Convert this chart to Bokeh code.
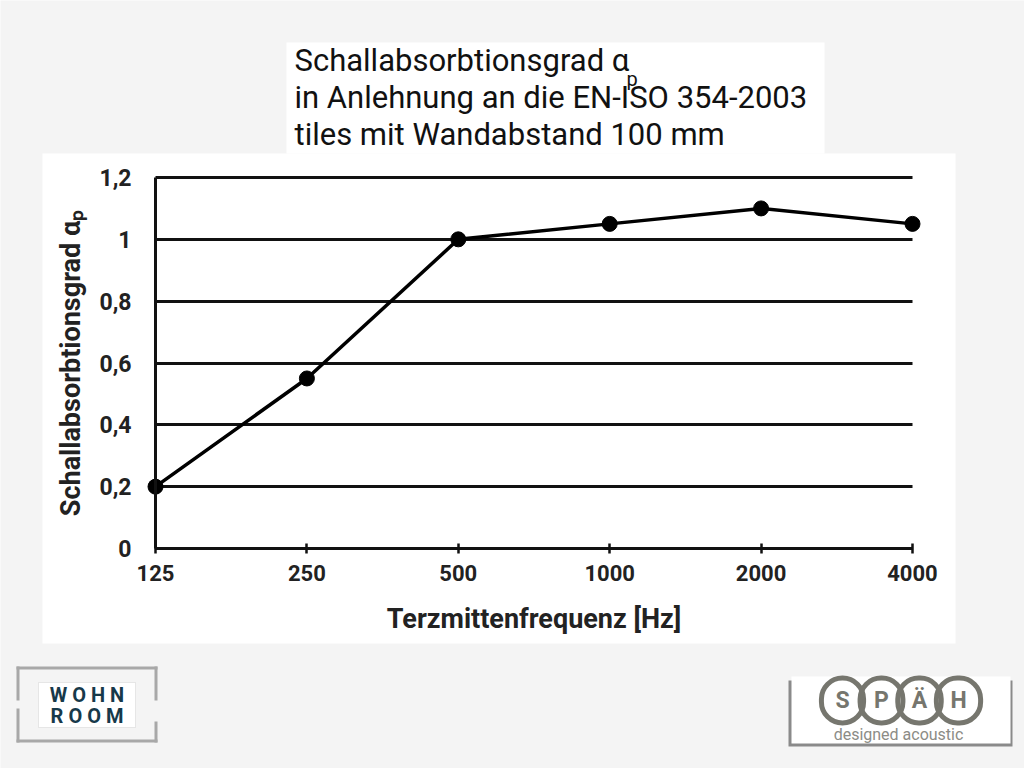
import math
from bokeh.plotting import figure
from bokeh.models import Range1d, FixedTicker, BoxAnnotation, Label, Grid
from bokeh.embed import file_html
from bokeh.resources import INLINE

# ---- data ----
freq = [125, 250, 500, 1000, 2000, 4000]
alpha = [0.2, 0.55, 1.0, 1.05, 1.1, 1.05]
freq_labels = ["125", "250", "500", "1000", "2000", "4000"]
y_ticks = [0, 0.2, 0.4, 0.6, 0.8, 1.0, 1.2]
y_tick_labels = ["0", "0,2", "0,4", "0,6", "0,8", "1", "1,2"]
title_lines = ["Schallabsorbtionsgrad α",
               "in Anlehnung an die EN-ISO 354-2003",
               "tiles mit Wandabstand 100 mm"]
x_title = "Terzmittenfrequenz [Hz]"
y_title = "Schallabsorbtionsgrad αₚ"

W, H = 1024, 768
BG = "#f4f4f4"
FONT = "Roboto"

# pixel layout of the chart area (frame covers the whole canvas)
PX_LEFT, PX_RIGHT = 155, 912      # x of first / last frequency
PY_TOP, PY_BOTTOM = 177, 548      # y of top tick / zero
px_oct = (PX_RIGHT - PX_LEFT) / math.log2(freq[-1] / freq[0])
py_unit = (PY_BOTTOM - PY_TOP) / (y_ticks[-1] - y_ticks[0])
xr = Range1d(freq[0] * 2 ** (-PX_LEFT / px_oct), freq[-1] * 2 ** ((W - PX_RIGHT) / px_oct))
yr = Range1d(y_ticks[0] - (H - PY_BOTTOM) / py_unit, y_ticks[-1] + PY_TOP / py_unit)

p = figure(width=W, height=H, x_axis_type="log", x_range=xr, y_range=yr,
           output_backend="svg", toolbar_location=None, min_border=0)
p.outline_line_color = None
p.background_fill_color = BG
p.border_fill_color = BG

def box(l, r, t, b, color="white", lc=None, lw=1, level="image"):
    ba = BoxAnnotation(left=l, right=r, top=t, bottom=b,
                       left_units="canvas", right_units="canvas",
                       top_units="canvas", bottom_units="canvas",
                       fill_color=color, fill_alpha=1.0,
                       line_color=lc, line_width=lw, level=level)
    p.add_layout(ba)
    return ba

# white panels
box(42, 955, 153, 643)
box(286, 824, 42, 153)

INK = "#111111"
TXT = "#222222"

# x axis
p.xaxis.fixed_location = y_ticks[0]
p.xaxis.ticker = FixedTicker(ticks=freq)
p.xaxis.major_label_overrides = {f: l for f, l in zip(freq, freq_labels)}
p.xaxis.bounds = (freq[0], freq[-1])
p.xaxis.axis_line_width = 3
p.xaxis.axis_line_color = INK
p.xaxis.major_tick_line_width = 2.5
p.xaxis.major_tick_line_color = INK
p.xaxis.major_tick_in = 5
p.xaxis.major_tick_out = 5
p.xaxis.minor_tick_line_color = None
p.xaxis.major_label_text_font = FONT
p.xaxis.major_label_text_font_style = "bold"
p.xaxis.major_label_text_font_size = "22px"
p.xaxis.major_label_text_color = TXT
p.xaxis.major_label_standoff = 11
p.xaxis.axis_label = x_title
p.xaxis.axis_label_text_font = FONT
p.xaxis.axis_label_text_font_style = "bold"
p.xaxis.axis_label_text_font_size = "27px"
p.xaxis.axis_label_text_color = TXT
p.xaxis.axis_label_standoff = 19

# y axis
p.yaxis.fixed_location = freq[0]
p.yaxis.ticker = FixedTicker(ticks=y_ticks)
p.yaxis.major_label_overrides = {v: l for v, l in zip(y_ticks, y_tick_labels)}
p.yaxis.bounds = (y_ticks[0], y_ticks[-1])
p.yaxis.axis_line_width = 3
p.yaxis.axis_line_color = INK
p.yaxis.major_tick_in = 0
p.yaxis.major_tick_out = 0
p.yaxis.minor_tick_line_color = None
p.yaxis.major_label_text_font = FONT
p.yaxis.major_label_text_font_style = "bold"
p.yaxis.major_label_text_font_size = "23px"
p.yaxis.major_label_text_color = TXT
p.yaxis.major_label_standoff = 24
p.yaxis.axis_label = y_title
p.yaxis.axis_label_text_font = FONT
p.yaxis.axis_label_text_font_style = "bold"
p.yaxis.axis_label_text_font_size = "27px"
p.yaxis.axis_label_text_color = TXT
p.yaxis.axis_label_standoff = 9

p.xgrid.visible = False
p.ygrid.grid_line_color = INK
p.ygrid.grid_line_width = 3
if "cross_bounds" in Grid.properties():
    p.ygrid.cross_bounds = (freq[0], freq[-1])

# data
p.line(freq, alpha, line_width=3.5, line_color="black")
p.scatter(freq, alpha, size=15, fill_color="black", line_color="black")

# title
for i, t in enumerate(title_lines):
    p.add_layout(Label(x=294, y=41 + 37 * i, x_units="canvas", y_units="canvas",
                       text=t, text_font=FONT, text_font_size="31px",
                       text_color=INK, text_baseline="top", text_align="left"))
p.add_layout(Label(x=626, y=66, x_units="canvas", y_units="canvas",
                   text="p", text_font=FONT, text_font_size="20px",
                   text_color=INK, text_baseline="top", text_align="left"))

# WOHN ROOM logo
G = "#a8a8a8"
box(16, 157, 666, 669, G, level="annotation")
box(16, 157, 739, 742, G, level="annotation")
box(16, 19, 666, 700, G, level="annotation")
box(16, 19, 708, 742, G, level="annotation")
box(154, 157, 666, 700, G, level="annotation")
box(154, 157, 721, 742, G, level="annotation")
box(38, 135, 682, 727, "white", lc="#bbbbbb", lw=1, level="annotation")
p.add_layout(Label(x=86.5, y=694, x_units="canvas", y_units="canvas", text="W O H N",
                   text_font=FONT, text_font_style="bold", text_font_size="20px",
                   text_color="#17394a", text_align="center", text_baseline="middle"))
p.add_layout(Label(x=86.5, y=715, x_units="canvas", y_units="canvas", text="R O O M",
                   text_font=FONT, text_font_style="bold", text_font_size="20px",
                   text_color="#17394a", text_align="center", text_baseline="middle"))

# SPÄH logo
box(788, 1012, 680, 746, "#8a8a8a", level="annotation")
box(791, 1010, 676, 743, "white", level="annotation")
SG = "#76766e"
for cx, letter in zip([842, 881, 919, 958], ["S", "P", "Ä", "H"]):
    p.add_layout(Label(x=cx, y=700, x_units="canvas", y_units="canvas", text=letter,
                       text_font=FONT, text_font_style="bold", text_font_size="23px",
                       text_color=SG, text_align="center", text_baseline="middle",
                       border_line_color=SG, border_line_width=5,
                       border_radius=21, padding=(14, 9)))
p.add_layout(Label(x=898, y=734, x_units="canvas", y_units="canvas", text="designed acoustic",
                   text_font=FONT, text_font_size="16px", text_color="#8c8c86",
                   text_align="center", text_baseline="middle"))

open("out.html", "w").write(file_html(p, INLINE))
